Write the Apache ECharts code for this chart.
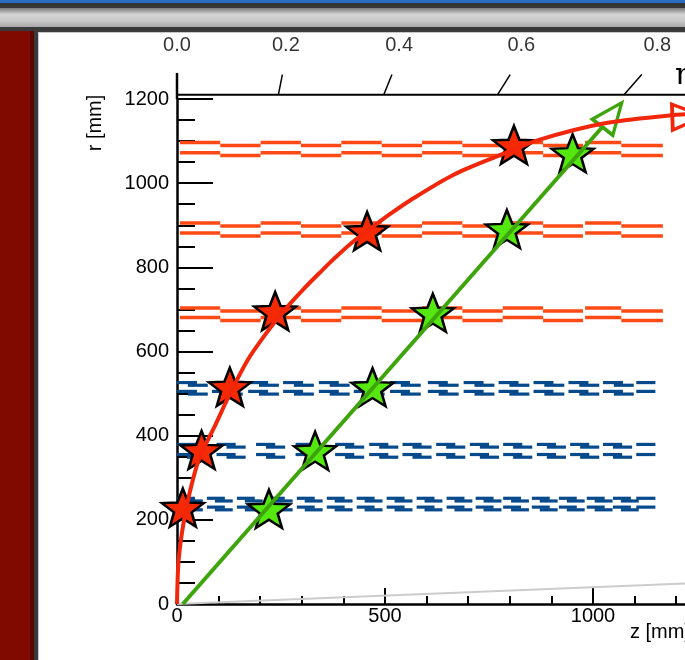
<!DOCTYPE html>
<html>
<head>
<meta charset="utf-8">
<script src="https://cdn.jsdelivr.net/npm/echarts@6/dist/echarts.min.js"></script>
<style>
html, body { margin: 0; padding: 0; width: 685px; height: 660px; overflow: hidden; background: #fff; }
#page { position: relative; width: 685px; height: 660px; }
.blk { position: absolute; }
#chart { position: absolute; left: 0; top: 0; width: 685px; height: 660px; }
</style>
</head>
<body>
<div id="page">
  <div class="blk" style="left:0;top:0;width:685px;height:3px;background:#2b6cc0"></div>
  <div class="blk" style="left:0;top:3px;width:685px;height:5px;background:#363636"></div>
  <div class="blk" style="left:0;top:8px;width:685px;height:19px;background:linear-gradient(#7a7a7a,#d6d6d6 35%,#c6c6c6 70%,#a9a9a9)"></div>
  <div class="blk" style="left:0;top:27px;width:685px;height:633px;background:#3a3a3a"></div>
  <div class="blk" style="left:0;top:31px;width:30px;height:629px;background:#800a00"></div>
  <div class="blk" style="left:30px;top:31px;width:4px;height:629px;background:#5c0600"></div>
  <div class="blk" style="left:38px;top:32px;width:647px;height:628px;background:#c8c8c8"></div>
  <div class="blk" style="left:39px;top:33px;width:646px;height:627px;background:#fff"></div>
  <div id="chart"></div>
</div>
<script>
// hits on the layers, z [mm] / r [mm]
var redHitZ = [14, 59, 127, 236, 457, 810];
var redHitR = [229, 366, 516, 696, 886, 1091];
var greenHitZ = [221, 332, 470, 615, 793, 951];
var greenHitR = [226, 364, 515, 692, 891, 1071];

// tracks
var redTrackZ = [0, 4, 17, 36, 55, 90, 128, 170, 212, 256, 302, 346, 377, 416, 457, 510, 562, 665, 775, 870, 1025, 1195, 1230];
var redTrackR = [0, 105, 200, 287, 350, 421, 501, 580, 640, 696, 746, 790, 820, 855, 886, 925, 960, 1020, 1066, 1103, 1142, 1162, 1164];
var greenTrackZ = [14, 1023];
var greenTrackR = [0, 1134];
var redArrow = [1228, 1158];
var greenArrow = [1046, 1162];

// thin grey line at large eta
var greyLineZ = [0, 1500];
var greyLineR = [0, 60];

// strip barrel layers: module edges along z, radius of the two planes
var stripStart = [7, 104, 201, 298, 395, 492, 589, 686, 783, 880, 981, 1068];
var stripEnd = [104, 201, 298, 395, 492, 589, 686, 783, 880, 976, 1068, 1168];
var stripR = [[700, 677], [902, 878], [1093, 1069]];

// pixel barrel layers: start of each module pair along z
var pixelR = [[248, 227], [376, 352], [523, 502]];
var pixelStart = [
  [0, 72, 144, 216, 288, 360, 432, 504, 576, 648, 718, 784, 853, 918, 985, 1048],
  [0, 95, 190, 285, 380, 462, 542, 623, 704, 784, 865, 945, 1024],
  [0, 84, 171, 255, 341, 425, 512, 603, 689, 773, 857, 941, 1024]
];
var pixelLen = [43, 46, 48];
var pixelShift = [19, 24, 26];
var pixelLast = [1104, 1150];

// eta scale on top
var etaTicks = [0.0, 0.2, 0.4, 0.6, 0.8];
var etaLabels = ['0.0', '0.2', '0.4', '0.6', '0.8'];

var FONT = 'Liberation Sans, Arial, sans-serif';
var STAR = 'path://M50,0 L62.34,33.01 L97.55,34.55 L69.97,56.49 L79.39,90.45 L50,71 L20.61,90.45 L30.03,56.49 L2.45,34.55 L37.66,33.01 Z';

function zip(a, b) {
  return a.map(function (v, i) { return [v, b[i]]; });
}

function stripBars(k) {
  var out = [];
  for (var j = 0; j < 2; j++) {
    for (var i = 0; i < stripStart.length; i++) {
      var r = stripR[k][j] + (i % 2 === 0 ? 3.5 : -3.5);
      out.push([stripStart[i], stripEnd[i], r]);
    }
  }
  return out;
}

function pixelBars(k) {
  var out = [];
  for (var j = 0; j < 2; j++) {
    var rc = pixelR[k][j];
    pixelStart[k].forEach(function (z) {
      out.push([z, z + pixelLen[k], rc + 3.2]);
      out.push([z + pixelShift[k], z + pixelShift[k] + pixelLen[k], rc - 3.2]);
    });
    out.push([pixelLast[0], pixelLast[1], rc + 3.2]);
  }
  return out;
}

function barRenderer(color, h) {
  return function (params, api) {
    var a = api.coord([api.value(0), api.value(2)]);
    var b = api.coord([api.value(1), api.value(2)]);
    return {
      type: 'rect',
      shape: { x: a[0], y: a[1] - h / 2, width: b[0] - a[0], height: h },
      style: { fill: color }
    };
  };
}

var series = [];
for (var k = 0; k < 3; k++) {
  series.push({ type: 'custom', renderItem: barRenderer('#ff4a16', 3.5), data: stripBars(k), silent: true });
  series.push({ type: 'custom', renderItem: barRenderer('#064a8c', 3.2), data: pixelBars(k), silent: true });
}

// top frame line and eta ticks
series.push({
  type: 'line', clip: false, symbol: 'none', silent: true,
  data: [[0, 1200], [0, 1262]],
  lineStyle: { color: '#000', width: 2.5 }
});
series.push({
  type: 'line', clip: false, symbol: 'none', silent: true,
  data: [[0, 1210], [1500, 1210]],
  lineStyle: { color: '#000', width: 2 }
});
etaTicks.slice(1).forEach(function (eta) {
  var s = Math.sinh(eta);
  series.push({
    type: 'line', clip: false, symbol: 'none', silent: true,
    data: [[1210 * s, 1210], [1258 * s, 1258]],
    lineStyle: { color: '#000', width: 1.5 }
  });
});
series.push({
  type: 'scatter', clip: false, symbolSize: 0, silent: true,
  data: etaTicks.map(function (eta, i) {
    return { value: [1300 * Math.sinh(eta), 1328], name: etaLabels[i] };
  }),
  label: {
    show: true, position: 'inside', formatter: '{b}',
    color: '#000', fontSize: 20, fontFamily: FONT
  }
});

series.push({
  type: 'line', symbol: 'none', silent: true,
  data: zip(greyLineZ, greyLineR),
  lineStyle: { color: '#cccccc', width: 2 }
});
series.push({
  type: 'line', symbol: 'none', smooth: 0.3, silent: true,
  data: zip(redTrackZ, redTrackR),
  lineStyle: { color: '#f2260a', width: 4 }
});
series.push({
  type: 'line', symbol: 'none', silent: true,
  data: zip(greenTrackZ, greenTrackR),
  lineStyle: { color: '#3ea40c', width: 4 }
});
series.push({
  type: 'scatter', clip: false, symbol: 'triangle', symbolSize: [26, 31], symbolRotate: -88,
  data: [redArrow],
  itemStyle: { color: '#fff', borderColor: '#f2260a', borderWidth: 3.5, opacity: 1 }
});
series.push({
  type: 'scatter', symbol: 'triangle', symbolSize: [26, 31], symbolRotate: -38,
  data: [greenArrow],
  itemStyle: { color: '#fff', borderColor: '#3ea40c', borderWidth: 3.5, opacity: 1 }
});
series.push({
  type: 'scatter', symbol: STAR, symbolSize: [42, 38],
  data: zip(redHitZ, redHitR),
  itemStyle: { color: '#f52a04', borderColor: '#000', borderWidth: 2.5, opacity: 1 }
});
series.push({
  type: 'scatter', symbol: STAR, symbolSize: [42, 38],
  data: zip(greenHitZ, greenHitR),
  itemStyle: { color: '#55e80f', borderColor: '#000', borderWidth: 2.5, opacity: 1 }
});

function plain(v) { return String(v); }

var chart = echarts.init(document.getElementById('chart'));
chart.setOption({
  animation: false,
  grid: { left: 177, top: 99, right: -116, bottom: 56, outerBoundsMode: 'none', containLabel: false },
  xAxis: {
    type: 'value', min: 0, max: 1500, interval: 500,
    axisLine: { show: true, onZero: false, lineStyle: { color: '#000', width: 2.5 } },
    axisTick: { show: true, inside: true, length: 16, lineStyle: { color: '#000', width: 2 } },
    minorTick: { show: true, splitNumber: 5, length: 8, lineStyle: { color: '#000', width: 2 } },
    axisLabel: { color: '#000', fontSize: 20, fontFamily: FONT, margin: 2, formatter: plain },
    splitLine: { show: false }
  },
  yAxis: {
    type: 'value', min: 0, max: 1200, interval: 200,
    axisLine: { show: true, onZero: false, lineStyle: { color: '#000', width: 2.5 } },
    axisTick: { show: true, inside: true, length: 36, lineStyle: { color: '#000', width: 2 } },
    minorTick: { show: true, splitNumber: 4, length: 18, lineStyle: { color: '#000', width: 2 } },
    axisLabel: { color: '#000', fontSize: 20, fontFamily: FONT, margin: 8, formatter: plain },
    splitLine: { show: false }
  },
  graphic: [
    { type: 'text', x: 95, y: 123, rotation: Math.PI / 2,
      style: { text: 'r [mm]', font: '20px Liberation Sans', fill: '#000', textAlign: 'center', textVerticalAlign: 'middle' } },
    { type: 'text', x: 630, y: 632,
      style: { text: 'z [mm]', font: '20px Liberation Sans', fill: '#000', textAlign: 'left', textVerticalAlign: 'middle' } },
    { type: 'text', x: 675, y: 76,
      style: { text: 'η', font: '30px DejaVu Serif', fill: '#000', textAlign: 'left', textVerticalAlign: 'middle' } }
  ],
  series: series
});
</script>
</body>
</html>
